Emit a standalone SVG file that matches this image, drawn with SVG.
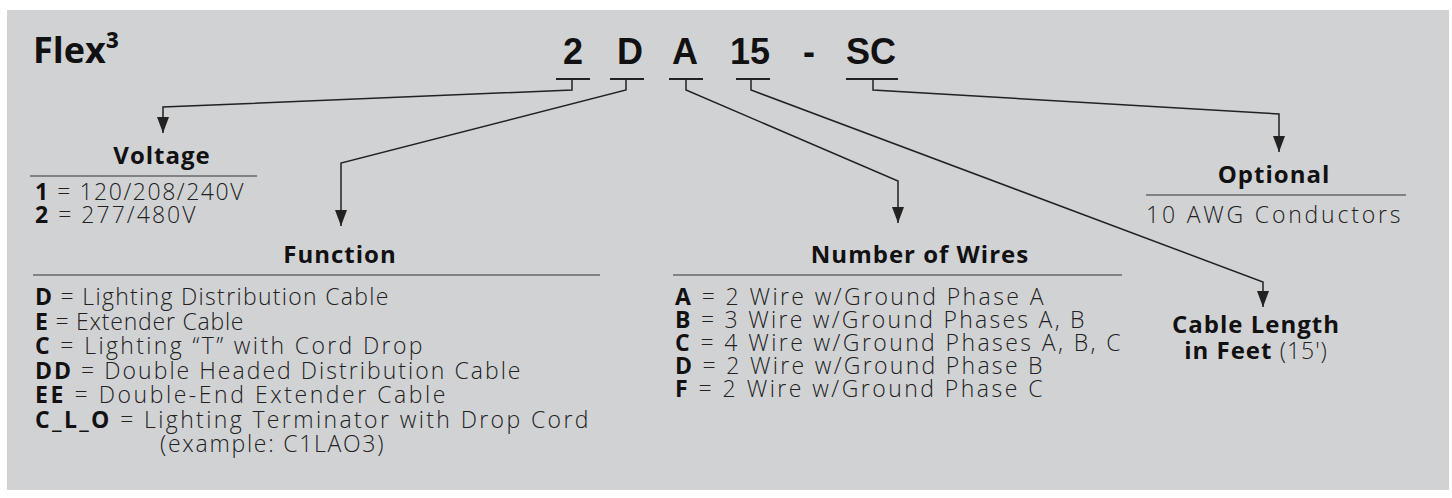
<svg xmlns="http://www.w3.org/2000/svg" width="1452" height="498" viewBox="0 0 1452 498">
<style>
.bg{fill:#d1d2d4}
.code{font-family:"Liberation Sans",Arial,sans-serif;font-weight:bold;font-size:36px;fill:#111}
.flex{font-family:"Open Sans",sans-serif;font-weight:bold;font-size:36px;fill:#111}
.ttl{font-family:"Open Sans",sans-serif;font-weight:bold;font-size:24px;letter-spacing:1px;fill:#111;text-anchor:middle}
.body{font-family:"Open Sans",sans-serif;font-weight:300;font-size:23px;letter-spacing:1.5px;fill:#222}
.k{font-weight:bold;fill:#111}
.ul{stroke:#222;stroke-width:2;fill:none}
.rule{stroke:#333;stroke-width:1.2;fill:none}
.conn{stroke:#222;stroke-width:1.5;fill:none;marker-end:url(#arr)}
</style>
<defs>
<marker id="arr" viewBox="0 -6 16 12" refX="16" refY="0" markerWidth="16" markerHeight="12" markerUnits="userSpaceOnUse" orient="auto">
<path d="M0,-6 L16,0 L0,6 z" fill="#222"/>
</marker>
</defs>
<rect class="bg" x="7" y="10" width="1442" height="480"/>
<g id="title"><text class="flex" x="33" y="63">Flex³</text></g>
<g id="code">
<text class="code" x="563" y="64">2</text>
<text class="code" x="617" y="64">D</text>
<text class="code" x="672" y="64">A</text>
<text class="code" x="730" y="64">15</text>
<text class="code" x="803" y="64">-</text>
<text class="code" x="846" y="64">SC</text>
<path class="ul" d="M556,79H590 M610,79H644 M669,79H703 M736,79H770 M846,79H898"/>
</g>
<g id="connectors">
<polyline class="conn" points="572,79 572,90 163,107 163,133"/>
<polyline class="conn" points="626,79 626,90 341,163 341,226"/>
<polyline class="conn" points="686,79 686,90 898,181 898,223"/>
<polyline class="conn" points="751,79 751,90 1263,282 1263,307"/>
<polyline class="conn" points="873,79 873,90 1279,114 1279,152"/>
</g>
<g id="voltage">
<text class="ttl" x="162" y="164">Voltage</text>
<path class="rule" d="M30,176H257"/>
<text class="body" x="35" y="200" textLength="210" lengthAdjust="spacing"><tspan class="k">1</tspan> = 120/208/240V</text>
<text class="body" x="35" y="223" textLength="162" lengthAdjust="spacing"><tspan class="k">2</tspan> = 277/480V</text>
</g>
<g id="function">
<text class="ttl" x="340" y="263">Function</text>
<path class="rule" d="M33,275H600"/>
<text class="body" x="35" y="305" textLength="355" lengthAdjust="spacing"><tspan class="k">D</tspan> = Lighting Distribution Cable</text>
<text class="body" x="35" y="329.5" textLength="210" lengthAdjust="spacing"><tspan class="k">E</tspan> = Extender Cable</text>
<text class="body" x="35" y="354" textLength="389" lengthAdjust="spacing"><tspan class="k">C</tspan> = Lighting “T” with Cord Drop</text>
<text class="body" x="35" y="378.5" textLength="487" lengthAdjust="spacing"><tspan class="k">DD</tspan> = Double Headed Distribution Cable</text>
<text class="body" x="35" y="403" textLength="412" lengthAdjust="spacing"><tspan class="k">EE</tspan> = Double-End Extender Cable</text>
<text class="body" x="35" y="427.5" textLength="555" lengthAdjust="spacing"><tspan class="k">C_L_O</tspan> = Lighting Terminator with Drop Cord</text>
<text class="body" x="160" y="452" textLength="225" lengthAdjust="spacing">(example: C1LAO3)</text>
</g>
<g id="wires">
<text class="ttl" x="920" y="263">Number of Wires</text>
<path class="rule" d="M673,275H1122"/>
<text class="body" x="675" y="305" textLength="370" lengthAdjust="spacing"><tspan class="k">A</tspan> = 2 Wire w/Ground Phase A</text>
<text class="body" x="675" y="328" textLength="411" lengthAdjust="spacing"><tspan class="k">B</tspan> = 3 Wire w/Ground Phases A, B</text>
<text class="body" x="675" y="351" textLength="447" lengthAdjust="spacing"><tspan class="k">C</tspan> = 4 Wire w/Ground Phases A, B, C</text>
<text class="body" x="675" y="374" textLength="369" lengthAdjust="spacing"><tspan class="k">D</tspan> = 2 Wire w/Ground Phase B</text>
<text class="body" x="675" y="397" textLength="369" lengthAdjust="spacing"><tspan class="k">F</tspan> = 2 Wire w/Ground Phase C</text>
</g>
<g id="length">
<text class="ttl" x="1256" y="333">Cable Length</text>
<text class="ttl" x="1256" y="359">in Feet <tspan class="body" style="letter-spacing:1px">(15')</tspan></text>
</g>
<g id="optional">
<text class="ttl" x="1274" y="183">Optional</text>
<path class="rule" d="M1146,195H1406"/>
<text class="body" x="1146" y="223" textLength="256" lengthAdjust="spacing">10 AWG Conductors</text>
</g>
</svg>
